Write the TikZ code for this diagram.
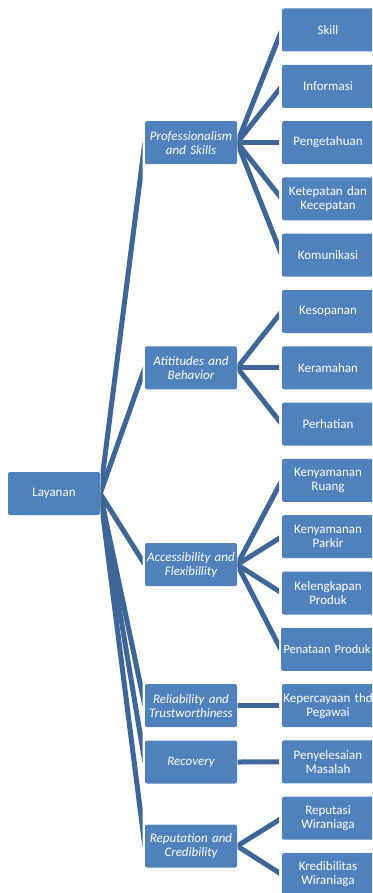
\documentclass[tikz,border=0pt]{standalone}
\usepackage{fontspec}
\setmainfont{Carlito}
\definecolor{boxblue}{HTML}{4F81BD}
\definecolor{linkblue}{RGB}{62,102,152}
\begin{document}
\begin{tikzpicture}[x=1pt,y=-1pt,
  box/.style={fill=boxblue, rounded corners=2pt, minimum height=43pt, text width=90pt,
    inner xsep=1pt, inner ysep=1pt, text=white, align=center, font=\fontsize{13}{14}\selectfont},
  lvltwo/.style={box, font=\fontsize{13}{14}\selectfont\itshape},
  link/.style={draw=linkblue, line width=5pt}]
\useasboundingbox (0,0) rectangle (372,893);
\clip (0,0) rectangle (372,893);
% root
\node[box] (L) at (54,493.5) {Layanan};
% level 2
\node[lvltwo] (P) at (191,142.6) {Professionalism\\and Skills};
\node[lvltwo] (A) at (191,367.8) {Atititudes and\\Behavior};
\node[lvltwo] (C) at (191,564.6) {Accessibility and\\Flexibillity};
\node[lvltwo] (R) at (191,705.6) {Reliability and\\Trustworthiness};
\node[lvltwo] (V) at (191,762) {Recovery};
\node[lvltwo] (T) at (191,846) {Reputation and\\Credibility};
% level 3
\node[box] (s1) at (328,30) {Skill};
\node[box] (s2) at (328,86.3) {Informasi};
\node[box] (s3) at (328,142.6) {Pengetahuan};
\node[box] (s4) at (328,198.9) {Ketepatan dan\\Kecepatan};
\node[box] (s5) at (328,255.2) {Komunikasi};
\node[box] (s6) at (328,311.5) {Kesopanan};
\node[box] (s7) at (328,367.8) {Keramahan};
\node[box] (s8) at (328,424.1) {Perhatian};
\node[box] (s9) at (328,480.4) {Kenyamanan\\Ruang};
\node[box] (s10) at (328,536.7) {Kenyamanan\\Parkir};
\node[box] (s11) at (328,593) {Kelengkapan\\Produk};
\node[box, font=\fontsize{12.4}{14}\selectfont] (s12) at (327,649.3) {\mbox{Penataan Produk}};
\node[box] (s13) at (328,705.6) {\mbox{Kepercayaan thd}\\Pegawai};
\node[box] (s14) at (328,761.9) {Penyelesaian\\Masalah};
\node[box] (s15) at (328,818.2) {Reputasi\\Wiraniaga};
\node[box] (s16) at (328,874.5) {Kredibilitas\\Wiraniaga};
% connectors root -> level 2
\begin{scope}
\clip (100.5,0) rectangle (142.5,893);
\foreach \c in {P,A,C,R,V,T} \draw[link] (L.east) -- (\c.west);
\end{scope}
% connectors level 2 -> level 3
\begin{scope}
\clip (237.5,0) rectangle (279,893);
\foreach \p/\c in {P/s1,P/s2,P/s3,P/s4,P/s5,A/s6,A/s7,A/s8,C/s9,C/s10,C/s11,C/s12,R/s13,V/s14,T/s15,T/s16}
  \draw[link] (\p.east) -- (\c.west);
\end{scope}
\end{tikzpicture}
\end{document}
